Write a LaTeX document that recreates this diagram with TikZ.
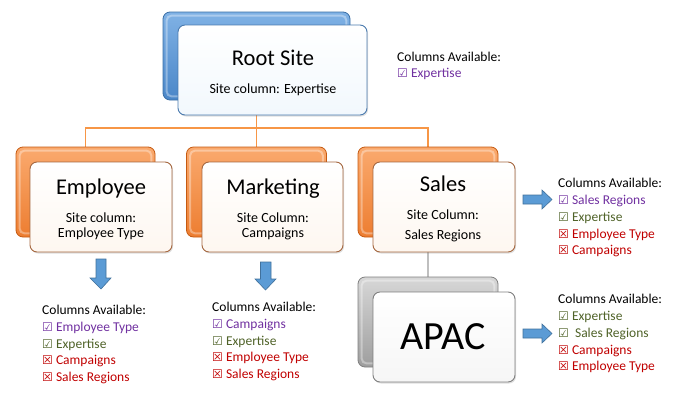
\documentclass[tikz,border=0pt]{standalone}
\usepackage{fontspec}
\setmainfont{Carlito}
\newfontfamily\symfont{DejaVu Sans}
\usetikzlibrary{shadows}
\definecolor{cpurple}{HTML}{7030A0}
\definecolor{cgreen}{HTML}{4F6228}
\definecolor{cred}{HTML}{C00000}
\definecolor{arrowblue}{HTML}{5B9BD5}
\definecolor{arrowedge}{HTML}{41719C}
\definecolor{orangeline}{HTML}{F79646}
\definecolor{grayline}{HTML}{BFBFBF}
\definecolor{bluetop}{RGB}{128,178,229}
\definecolor{bluebot}{RGB}{74,134,200}
\definecolor{blueedge}{RGB}{58,110,165}
\definecolor{orangetop}{RGB}{250,170,110}
\definecolor{orangebot}{RGB}{237,125,49}
\definecolor{orangeedge}{RGB}{197,90,17}
\definecolor{graytop}{RGB}{215,215,215}
\definecolor{graybot}{RGB}{158,158,158}
\definecolor{grayedge}{RGB}{127,127,127}
\definecolor{bluefrontbot}{RGB}{242,248,253}
\definecolor{bluefrontedge}{RGB}{74,122,174}
\definecolor{orangefrontbot}{RGB}{254,247,240}
\definecolor{orangefrontedge}{RGB}{165,103,63}
\definecolor{grayfrontbot}{RGB}{246,246,246}
\newcommand\mychk{{\symfont\fontsize{12}{12}\selectfont ☑}}
\newcommand\myx{{\symfont\fontsize{12}{12}\selectfont ☒}}
\tikzset{
  boxback/.style={rounded corners=7pt, inner sep=0pt, line width=0.8pt, minimum height=90pt},
  blueback/.style={boxback, top color=bluetop, bottom color=bluebot, draw=blueedge},
  orangeback/.style={boxback, top color=orangetop, bottom color=orangebot, draw=orangeedge},
  grayback/.style={boxback, top color=graytop, bottom color=graybot, draw=grayedge},
  boxfront/.style={rounded corners=7pt, inner sep=0pt, line width=0.9pt, minimum height=90pt,
    drop shadow={opacity=0.25, shadow xshift=1pt, shadow yshift=-1.5pt}},
  bluefront/.style={boxfront, top color=white, bottom color=bluefrontbot, draw=bluefrontedge},
  orangefront/.style={boxfront, top color=white, bottom color=orangefrontbot, draw=orangefrontedge},
  grayfront/.style={boxfront, top color=white, bottom color=grayfrontbot, draw=grayedge},
  shine/.style={white, opacity=0.35, line width=2pt, rounded corners=5pt},
  title/.style={font=\fontsize{22.5}{27}\selectfont, anchor=base, inner sep=0pt},
  sub/.style={font=\fontsize{14}{17}\selectfont, anchor=base, inner sep=0pt},
  li/.style={font=\fontsize{13.5}{16}\selectfont, anchor=base west, inner sep=0pt},
  conn/.style={orangeline, line width=1.3pt},
  grayconn/.style={grayline, line width=2pt},
  blockarrow/.style={fill=arrowblue, draw=arrowedge, line width=0.6pt, line join=miter}
}
\begin{document}
\begin{tikzpicture}[x=1pt,y=-1pt]
\path[use as bounding box] (0,0) rectangle (693,410);

% placeholders for back boxes (used as connector ends)
\path (256.5,56) node[minimum width=187pt, minimum height=88pt] (rootback) {};
\path (85.5,192) node[minimum width=139pt, minimum height=90pt] (empback) {};
\path (256.5,192) node[minimum width=140pt, minimum height=90pt] (mktback) {};
\path (428,192) node[minimum width=140pt, minimum height=90pt] (salesback) {};
\path (428,322) node[minimum width=140pt, minimum height=90pt] (apacback) {};

% connectors
\coordinate (hub) at (256.5,128);
\draw[conn] (rootback.south) -- (hub);
\draw[conn] (hub) -| (empback.north);
\draw[conn] (hub) -- (mktback.north);
\draw[conn] (hub) -| (salesback.north);
\draw[grayconn] (salesback.south) -- (apacback.north);

% back boxes
\node[blueback, minimum width=187pt, minimum height=88pt] (rootbackbox) at (rootback) {};
\draw[shine] ([shift={(4,4)}]rootbackbox.north west) rectangle ([shift={(-4,-4)}]rootbackbox.south east);
\node[orangeback, minimum width=139pt] (empbackbox) at (empback) {};
\draw[shine] ([shift={(4,4)}]empbackbox.north west) rectangle ([shift={(-4,-4)}]empbackbox.south east);
\node[orangeback, minimum width=140pt] (mktbackbox) at (mktback) {};
\draw[shine] ([shift={(4,4)}]mktbackbox.north west) rectangle ([shift={(-4,-4)}]mktbackbox.south east);
\node[orangeback, minimum width=140pt] (salesbackbox) at (salesback) {};
\draw[shine] ([shift={(4,4)}]salesbackbox.north west) rectangle ([shift={(-4,-4)}]salesbackbox.south east);
\node[grayback, minimum width=140pt] (apacbackbox) at (apacback) {};
\draw[shine] ([shift={(4,4)}]apacbackbox.north west) rectangle ([shift={(-4,-4)}]apacbackbox.south east);

% front boxes
\node[bluefront, minimum width=189pt] (rootfront) at (272.5,70) {};
\node[orangefront, minimum width=142pt] (empfront) at (101,207) {};
\node[orangefront, minimum width=141pt] (mktfront) at (272.5,207) {};
\node[orangefront, minimum width=142pt] (salesfront) at (444,207) {};
\node[grayfront, minimum width=142pt] (apacfront) at (444,337) {};

% box texts
\node[title] (roott) at (273,65) {Root Site};
\node[sub] (roots) at (273,93) {Site column: Expertise};
\node[title] (empt) at (101,194) {Employee};
\node[sub] (emps1) at (101,222) {Site column:};
\node[sub] (emps2) at (101,237) {Employee Type};
\node[title] (mktt) at (273,194) {Marketing};
\node[sub] (mkts1) at (273,222) {Site Column:};
\node[sub] (mkts2) at (273,237) {Campaigns};
\node[title] (salest) at (443,191) {Sales};
\node[sub] (saless1) at (443,219) {Site Column:};
\node[sub] (saless2) at (443,239) {Sales Regions};
\node[font=\fontsize{40}{44}\selectfont, anchor=base, inner sep=0pt] (apact) at (443,349) {APAC};

% block arrows
\draw[blockarrow] (96,259) -- (106,259) -- (106,278) -- (111,278) -- (101,289) -- (90,278) -- (96,278) -- cycle;
\draw[blockarrow] (260.5,262) -- (271,262) -- (271,279) -- (276,279) -- (265.5,290) -- (255,279) -- (260.5,279) -- cycle;
\draw[blockarrow] (523,195) -- (542,195) -- (542,190) -- (552,199.5) -- (542,209) -- (542,204) -- (523,204) -- cycle;
\draw[blockarrow] (523,329) -- (542,329) -- (542,324) -- (552,333.5) -- (542,343) -- (542,338) -- (523,338) -- cycle;

% lists
\node[li] (r0) at (397,61) {Columns Available:};
\node[li, text=cpurple] (r1) at (397,77) {\mychk\ Expertise};

\node[li] (e0) at (42,314) {Columns Available:};
\node[li, text=cpurple] (e1) at (42,331) {\mychk\ Employee Type};
\node[li, text=cgreen] (e2) at (42,348) {\mychk\ Expertise};
\node[li, text=cred] (e3) at (42,364) {\myx\ Campaigns};
\node[li, text=cred] (e4) at (42,381) {\myx\ Sales Regions};

\node[li] (m0) at (212,311) {Columns Available:};
\node[li, text=cpurple] (m1) at (212,328) {\mychk\ Campaigns};
\node[li, text=cgreen] (m2) at (212,345) {\mychk\ Expertise};
\node[li, text=cred] (m3) at (212,361) {\myx\ Employee Type};
\node[li, text=cred] (m4) at (212,378) {\myx\ Sales Regions};

\node[li] (s0) at (558,187) {Columns Available:};
\node[li, text=cpurple] (s1) at (558,204) {\mychk\ Sales Regions};
\node[li, text=cgreen] (s2) at (558,221) {\mychk\ Expertise};
\node[li, text=cred] (s3) at (558,238) {\myx\ Employee Type};
\node[li, text=cred] (s4) at (558,254) {\myx\ Campaigns};

\node[li] (a0) at (558,303) {Columns Available:};
\node[li, text=cgreen] (a1) at (558,320) {\mychk\ Expertise};
\node[li, text=cgreen] (a2) at (558,337) {\mychk\ \ Sales Regions};
\node[li, text=cred] (a3) at (558,354) {\myx\ Campaigns};
\node[li, text=cred] (a4) at (558,370) {\myx\ Employee Type};
\end{tikzpicture}
\end{document}
